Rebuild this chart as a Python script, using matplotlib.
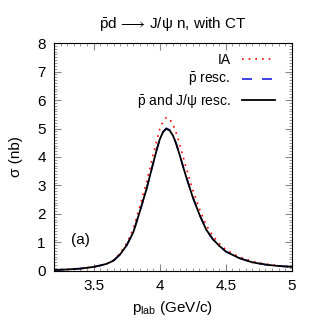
import numpy as np
import matplotlib
matplotlib.use("Agg")
import matplotlib.pyplot as plt
from matplotlib.ticker import MultipleLocator

plt.rcParams['font.family'] = ['Liberation Sans', 'DejaVu Sans']
plt.rcParams['mathtext.fontset'] = 'custom'
plt.rcParams['mathtext.rm'] = 'Liberation Sans'
plt.rcParams['mathtext.it'] = 'Liberation Sans:italic'

# beam momentum (GeV/c)
p_lab = [3.20, 3.30, 3.40, 3.50, 3.55, 3.60, 3.65, 3.70, 3.75, 3.80,
         3.85, 3.90, 3.925, 3.95, 3.975, 4.00, 4.025, 4.05, 4.075, 4.10,
         4.125, 4.15, 4.175, 4.20, 4.25, 4.30, 4.35, 4.40, 4.45, 4.50,
         4.60, 4.70, 4.80, 4.90, 5.00]

# cross sections (nb)
sigma_ia = [0.03, 0.05, 0.08, 0.14, 0.19, 0.26, 0.38, 0.62, 0.97, 1.48,
            2.28, 3.12, 3.60, 4.08, 4.55, 4.98, 5.25, 5.39, 5.33, 5.15,
            4.83, 4.45, 4.04, 3.62, 2.84, 2.18, 1.62, 1.24, 0.96, 0.74,
            0.49, 0.33, 0.24, 0.18, 0.15]
sigma_pbar = [0.03, 0.05, 0.08, 0.14, 0.19, 0.25, 0.36, 0.58, 0.90, 1.36,
              2.10, 2.88, 3.33, 3.78, 4.23, 4.63, 4.89, 5.01, 4.95, 4.77,
              4.46, 4.09, 3.69, 3.31, 2.59, 1.98, 1.46, 1.12, 0.88, 0.68,
              0.45, 0.30, 0.22, 0.17, 0.14]
sigma_both = [0.03, 0.05, 0.08, 0.14, 0.19, 0.25, 0.36, 0.58, 0.90, 1.36,
              2.10, 2.88, 3.33, 3.78, 4.22, 4.62, 4.88, 4.99, 4.93, 4.75,
              4.45, 4.08, 3.68, 3.30, 2.58, 1.98, 1.46, 1.12, 0.88, 0.68,
              0.45, 0.30, 0.22, 0.17, 0.14]

fig = plt.figure(figsize=(3.18, 3.34), dpi=100)
ax = fig.add_axes([0.170, 0.189, 0.748, 0.682])

ax.plot(p_lab, sigma_ia, color='red', linestyle=(0, (1, 3)), lw=1.2, label='IA')
ax.plot(p_lab, sigma_pbar, color='#2020e0', linestyle=(0, (6, 6)), lw=1.2,
        label=r'$\bar{\rm p}$ resc.')
ax.plot(p_lab, sigma_both, color='black', lw=1.3,
        label=r'$\bar{\rm p}$ and J/ψ resc.')

ax.set_xlim(3.2, 5)
ax.set_ylim(0, 8)
ax.xaxis.set_minor_locator(MultipleLocator(0.05))
ax.yaxis.set_major_locator(MultipleLocator(1))
ax.yaxis.set_minor_locator(MultipleLocator(0.1))
ax.set_xticks([3.5, 4, 4.5, 5])
ax.set_xticklabels(['3.5', '4', '4.5', '5'])
ax.tick_params(which='both', direction='in', top=True, right=True,
               color='#888888', labelsize=11, pad=6)
ax.tick_params(which='major', length=5)
ax.tick_params(which='minor', length=2.5)

ax.set_title(r'$\bar{\rm p}$d$\,\longrightarrow\,$J/ψ n, with CT', fontsize=11, pad=11)
ax.set_xlabel(r'p$_{\rm lab}$ (GeV/c)', fontsize=11)
ax.set_ylabel('σ (nb)', fontsize=11, labelpad=10)
ax.text(3.33, 0.95, '(a)', fontsize=11)

ax.legend(loc='upper right', frameon=False, markerfirst=False, fontsize=10,
          handlelength=2.4, labelspacing=0.28, borderaxespad=0.3,
          bbox_to_anchor=(0.97, 1.0))

fig.savefig('out.png', dpi=100)
